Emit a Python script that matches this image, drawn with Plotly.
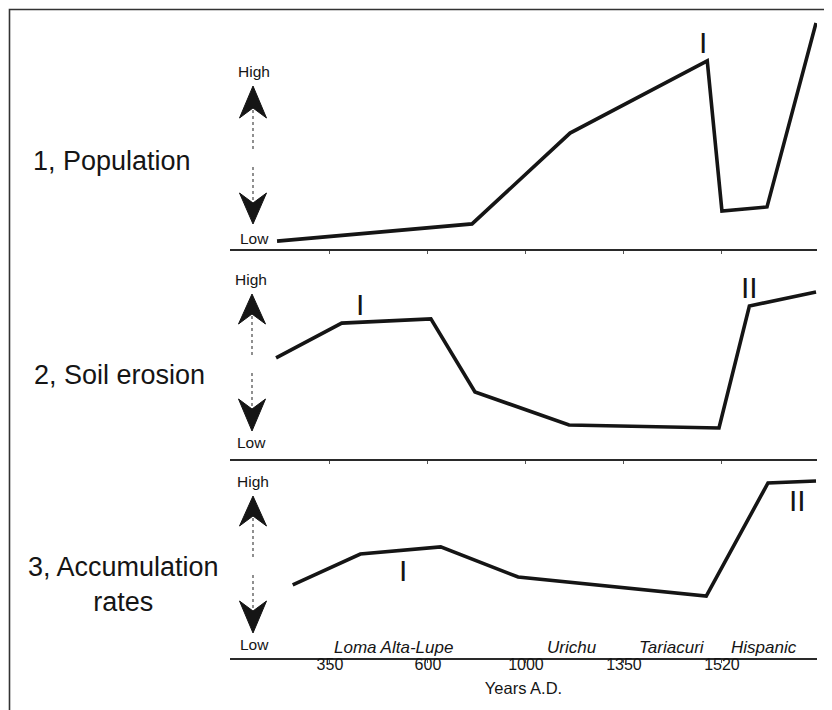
import plotly.graph_objects as go

# ---------------- data ----------------
tick_pos = [1, 2, 3, 4, 5]
tick_labels = ["350", "600", "1000", "1350", "1520"]
periods = ["Loma Alta-Lupe", "Urichu", "Tariacuri", "Hispanic"]
period_pos = [1.65, 3.47, 4.49, 5.43]

pop_x = [0.46, 2.45, 3.45, 4.85, 5.0, 5.46, 5.96]
pop_y = [0.033, 0.105, 0.485, 0.787, 0.159, 0.176, 0.946]
ero_x = [0.45, 1.12, 2.03, 2.48, 3.44, 4.97, 5.28, 5.96]
ero_y = [0.508, 0.683, 0.704, 0.337, 0.171, 0.156, 0.769, 0.839]
acc_x = [0.62, 1.31, 2.13, 2.92, 4.84, 5.47, 5.96]
acc_y = [0.369, 0.525, 0.561, 0.409, 0.313, 0.884, 0.894]

panel_titles = ["1, Population", "2, Soil erosion", "3, Accumulation<br>rates"]

# roman-numeral phase labels (x, y in each panel's units)
phase_labels = [
    ("I", 4.81, 0.862, 1),
    ("I", 1.31, 0.774, 2),
    ("II", 5.28, 0.864, 2),
    ("I", 1.75, 0.444, 3),
    ("II", 5.77, 0.798, 3),
]

# ---------------- layout helpers ----------------
OFF = 8  # page body margin
W, H = 824, 702
ML, MR, MT, MB = 222, 15, 2, 52
PW = W - ML - MR
PH = H - MT - MB
XR = [-0.02, 5.97]


def px(x):
    return (x - OFF - ML) / PW


def py(y):
    return (H - MB - (y - OFF)) / PH


FONT = "Liberation Sans, Arial, Helvetica, sans-serif"
INK = "#151515"

fig = go.Figure()
series = [(pop_x, pop_y), (ero_x, ero_y), (acc_x, acc_y)]
for i, (xs, ys) in enumerate(series, start=1):
    fig.add_trace(go.Scatter(
        x=xs, y=ys, mode="lines",
        line=dict(color=INK, width=3.6),
        xaxis="x" if i == 1 else f"x{i}",
        yaxis="y" if i == 1 else f"y{i}",
        showlegend=False, hoverinfo="skip",
    ))

# panel domains (baseline pixel, top pixel) in screen coordinates
panels = [(249, 10), (459, 260), (658, 460)]
axis_common = dict(range=XR, showgrid=False, zeroline=False, showline=True,
                   linecolor="#2a2a2a", linewidth=2, ticks="outside",
                   ticklen=3, tickwidth=1, tickcolor="#555",
                   tickvals=tick_pos, fixedrange=True)
layout = {}
for i, (base, top) in enumerate(panels, start=1):
    xa = dict(axis_common)
    ya = dict(range=[0, 1], visible=False, fixedrange=True,
              domain=[max(0, py(base)), min(1, py(top))])
    xa["anchor"] = "y" if i == 1 else f"y{i}"
    if i == 3:
        xa.update(ticktext=tick_labels, showticklabels=True,
                  ticklabelstandoff=-12,
                  tickfont=dict(family=FONT, size=16, color=INK),
                  title=dict(text="Years A.D.", standoff=10,
                             font=dict(family=FONT, size=16.5, color=INK)))
    else:
        xa.update(showticklabels=False)
    layout["xaxis" if i == 1 else f"xaxis{i}"] = xa
    layout["yaxis" if i == 1 else f"yaxis{i}"] = ya

fig.update_layout(**layout)

annotations = []
# big panel titles
title_pos = [(112, 161), (119, 375), (123, 584)]
for t, (cx, cy) in zip(panel_titles, title_pos):
    annotations.append(dict(text=t, x=px(cx), y=py(cy), xref="paper", yref="paper",
                            xanchor="center", yanchor="middle", showarrow=False,
                            align="center",
                            font=dict(family=FONT, size=27, color=INK)))

# High / Low labels
hl = [("High", 254, 72), ("Low", 254, 238),
      ("High", 251, 279), ("Low", 251, 442),
      ("High", 253, 481), ("Low", 254, 644)]
for t, cx, cy in hl:
    annotations.append(dict(text=t, x=px(cx), y=py(cy), xref="paper", yref="paper",
                            xanchor="center", yanchor="middle", showarrow=False,
                            font=dict(family=FONT, size=15.5, color=INK)))

# roman numerals
for t, x, y, p in phase_labels:
    annotations.append(dict(text=t, x=x, y=y,
                            xref="x" if p == 1 else f"x{p}",
                            yref="y" if p == 1 else f"y{p}",
                            xanchor="center", yanchor="middle", showarrow=False,
                            font=dict(family=FONT, size=30, color=INK)))

# period names on the bottom axis
for t, x in zip(periods, period_pos):
    annotations.append(dict(text=f"<i>{t}</i>", x=x, y=0, xref="x3", yref="paper",
                            xanchor="center", yanchor="bottom", showarrow=False,
                            borderpad=0,
                            font=dict(family=FONT, size=17, color=INK)))

shapes = []
# frame (left and top edges visible)
shapes.append(dict(type="rect", xref="paper", yref="paper",
                   x0=px(9.5), x1=px(840), y0=py(730), y1=py(9.5),
                   line=dict(color="#333", width=1.6), fillcolor="rgba(0,0,0,0)"))


def head(cx, tip, base, notch, hw=13.5):
    return (f"M {px(cx)} {py(tip)} L {px(cx + hw)} {py(base)} "
            f"L {px(cx)} {py(notch)} L {px(cx - hw)} {py(base)} Z")


arrows = [
    # cx, up tip, up base, dotted1 end, dotted2 start, down base, down tip
    (253, 86, 118, 150, 167, 193, 224),
    (252, 294, 324, 357, 373, 399, 431),
    (253, 496, 526, 558, 575, 601, 633),
]
for cx, ut, ub, d1, d2, db, dt in arrows:
    shapes.append(dict(type="path", xref="paper", yref="paper",
                       path=head(cx, ut, ub, ub - 10), fillcolor=INK,
                       line=dict(color=INK, width=1)))
    shapes.append(dict(type="path", xref="paper", yref="paper",
                       path=head(cx, dt, db, db + 10), fillcolor=INK,
                       line=dict(color=INK, width=1)))
    shapes.append(dict(type="line", xref="paper", yref="paper",
                       x0=px(cx), x1=px(cx), y0=py(ub - 8), y1=py(d1),
                       line=dict(color="#555", width=1.3, dash="dot")))
    shapes.append(dict(type="line", xref="paper", yref="paper",
                       x0=px(cx), x1=px(cx), y0=py(d2), y1=py(db + 8),
                       line=dict(color="#555", width=1.3, dash="dot")))

fig.update_layout(
    width=W, height=H,
    margin=dict(l=ML, r=MR, t=MT, b=MB),
    paper_bgcolor="white", plot_bgcolor="white",
    annotations=annotations, shapes=shapes,
    font=dict(family=FONT, color=INK),
)

fig.write_html("out.html")
